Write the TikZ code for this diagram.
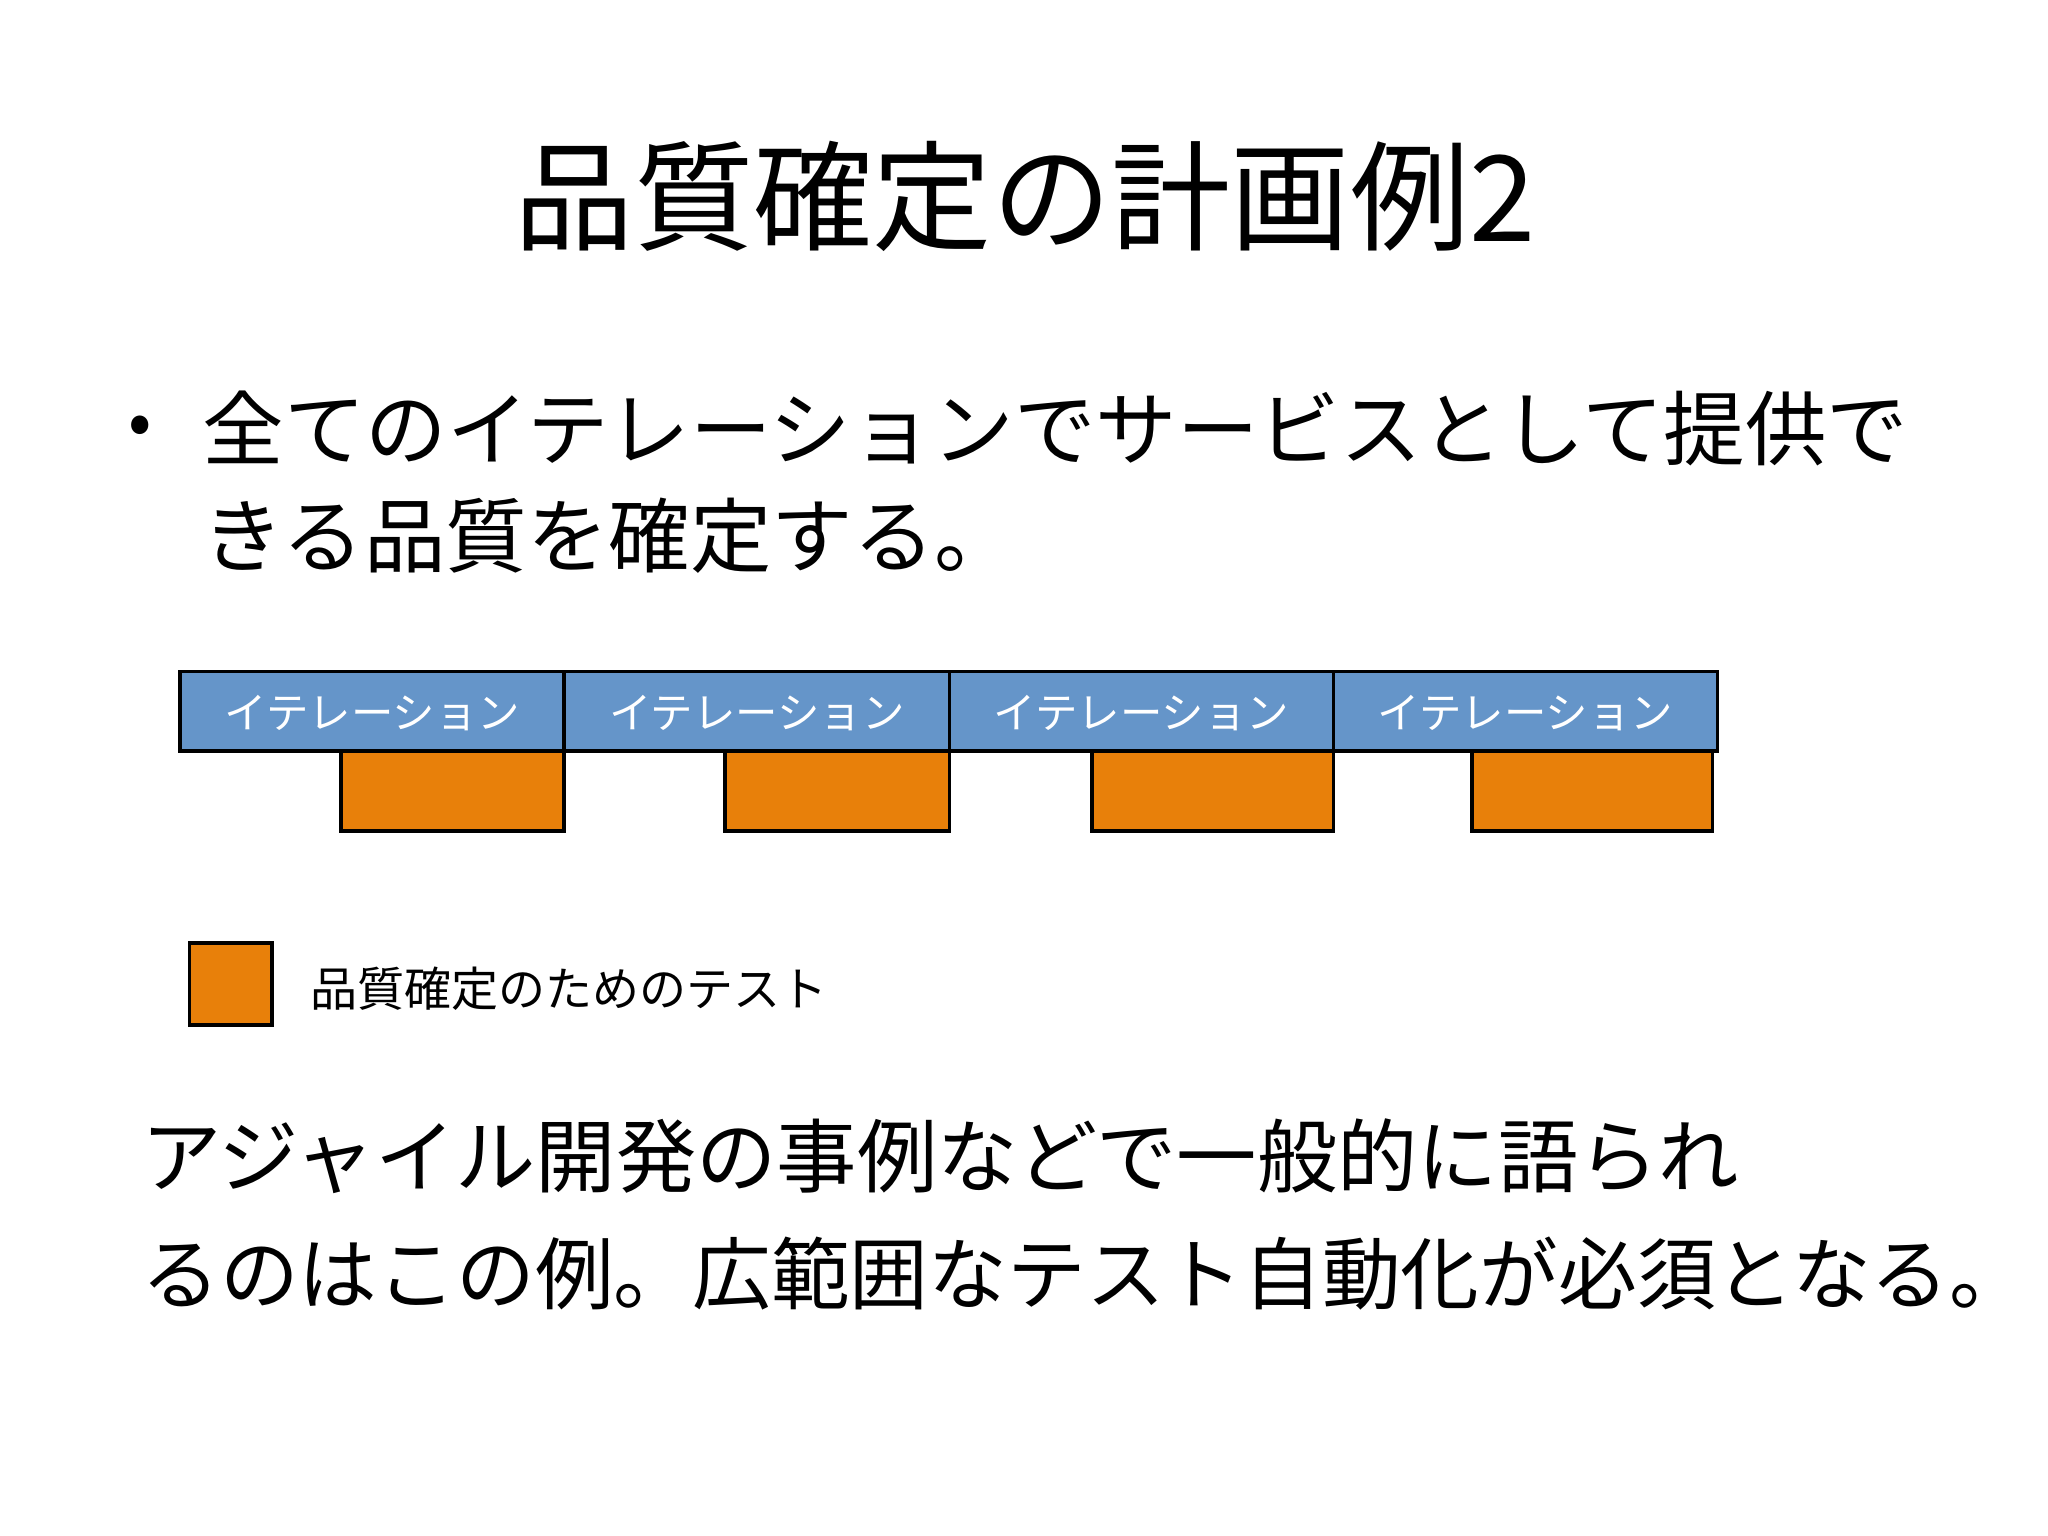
\documentclass[tikz,border=0pt]{standalone}
\usepackage{fontspec}
\newfontfamily\jp{Noto Sans CJK JP}
\definecolor{itblue}{HTML}{6595C9}
\definecolor{qorange}{HTML}{E8800A}
\begin{document}
\begin{tikzpicture}[x=0.02cm,y=-0.02cm,
  itbox/.style={draw=black,line width=1.6pt,fill=itblue,text=white,inner sep=0pt},
  qbox/.style={draw=black,line width=1.6pt,fill=qorange},
  txt/.style={anchor=west,inner sep=0pt,font=\jp\fontsize{35}{42}\selectfont}]
\useasboundingbox[fill=white] (0,0) rectangle (1568,1176);
\node[inner sep=0pt,font=\jp\fontsize{52}{60}\selectfont] (title) at (785,150) {品質確定の計画例2};
\node[inner sep=0pt,font=\jp\fontsize{30}{36}\selectfont] (bul) at (107,330) {•};
\node[txt,font=\jp\fontsize{35.5}{42}\selectfont] (b1) at (155,328) {全てのイテレーションでサービスとして提供で};
\node[txt,font=\jp\fontsize{35.5}{42}\selectfont] (b2) at (155,410) {きる品質を確定する。};
\foreach \i/\a/\b in {1/138/432,2/432/727,3/727/1021,4/1021/1315}{
  \path[itbox] (\a,514) rectangle (\b,575);
  \node[inner sep=0pt,text=white,font=\jp\fontsize{18.5}{22}\selectfont] (it\i) at ({(\a+\b)/2},546) {イテレーション};
}
\foreach \i/\a/\b in {1/261/432,2/555/727,3/836/1021,4/1127/1311}{
  \path[qbox] (\a,575) rectangle (\b,636);
}
\path[qbox] (145,722) rectangle (208,785);
\node[anchor=west,inner sep=0pt,font=\jp\fontsize{20.5}{24}\selectfont] (leg) at (237,757) {品質確定のためのテスト};
\node[txt] (c1) at (108,885) {アジャイル開発の事例などで一般的に語られ};
\node[txt,font=\jp\fontsize{34.3}{42}\selectfont] (c2) at (108,975) {るのはこの例。広範囲なテスト自動化が必須となる。};
\end{tikzpicture}
\end{document}
